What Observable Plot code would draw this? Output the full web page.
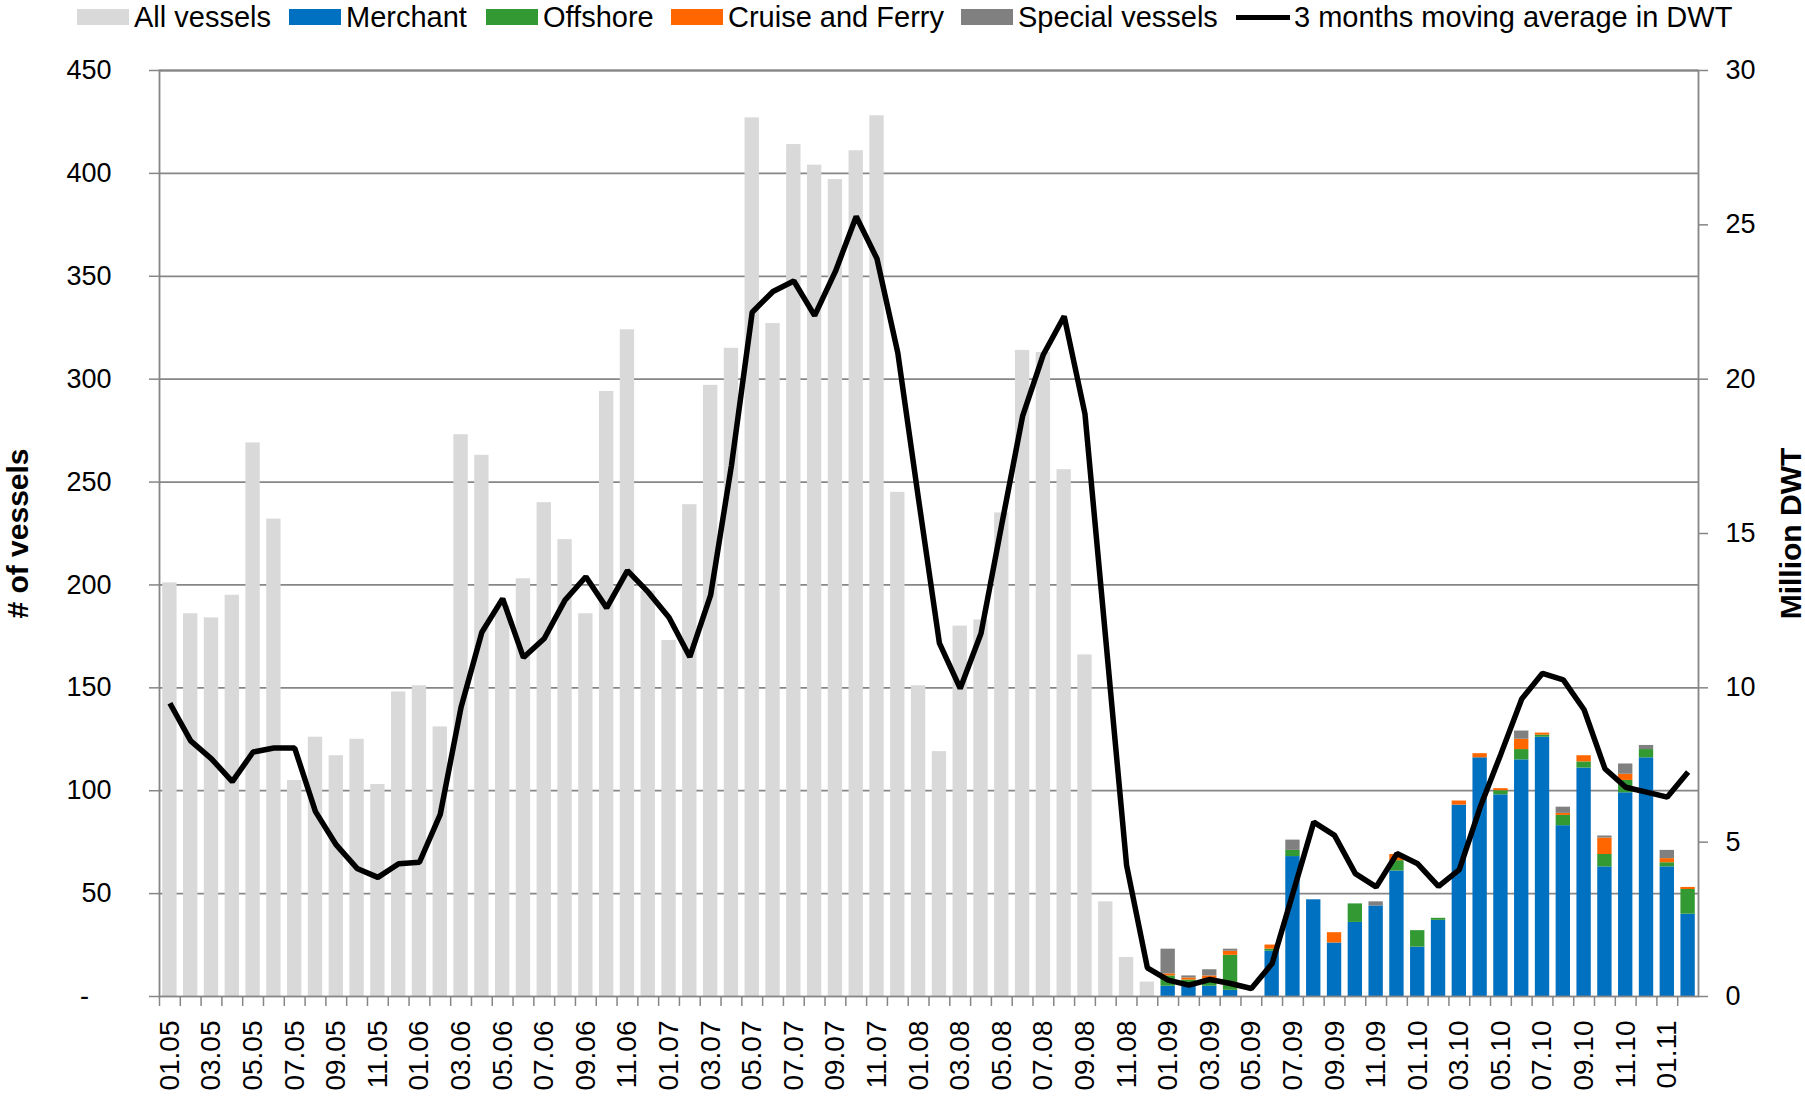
<!DOCTYPE html>
<html><head><meta charset="utf-8">
<script src="https://cdn.jsdelivr.net/npm/d3@7"></script>
<script src="https://cdn.jsdelivr.net/npm/@observablehq/plot@0.6"></script>
<style>
html,body{margin:0;padding:0;background:#fff;}
body{width:1805px;height:1101px;overflow:hidden;font-family:"Liberation Sans",Arial,sans-serif;}
#legend{position:relative;height:34px;font-size:29px;color:#000;white-space:nowrap;}
.item{position:absolute;top:0;height:34px;display:flex;align-items:center;}
.sw{width:52px;height:16px;margin-right:5px;}
.ln{width:54px;height:5px;background:#000;margin-right:4px;}
</style></head><body>
<div id="legend"></div>
<div id="chart"></div>
<script>
// ---- data ----
const months = [
  "01.05","02.05","03.05","04.05","05.05","06.05","07.05","08.05","09.05","10.05","11.05","12.05",
  "01.06","02.06","03.06","04.06","05.06","06.06","07.06","08.06","09.06","10.06","11.06","12.06",
  "01.07","02.07","03.07","04.07","05.07","06.07","07.07","08.07","09.07","10.07","11.07","12.07",
  "01.08","02.08","03.08","04.08","05.08","06.08","07.08","08.08","09.08","10.08","11.08","12.08",
  "01.09","02.09","03.09","04.09","05.09","06.09","07.09","08.09","09.09","10.09","11.09","12.09",
  "01.10","02.10","03.10","04.10","05.10","06.10","07.10","08.10","09.10","10.10","11.10","12.10",
  "01.11","02.11"
];
// All vessels, 01.05 - 12.08
const allVessels = [
  201,186,184,195,269,232,105,126,117,125,103,148,
  151,131,273,263,190,203,240,222,186,294,324,197,
  173,239,297,315,427,327,414,404,397,411,428,245,
  151,119,180,183,235,314,313,256,166,46,19,7
];
// Breakdown, 01.09 - 02.11
const merchant = [5,5,5,3,0,22,68,47,26,36,44,61, 24,37,93,116,98,115,126,83,111,63,99,116, 63,40];
const offshore = [5,3,3,17,0,1,3,0,0,9,0,5, 8,1,0,0,2,5,1,5,3,6,6,4, 2,12];
const cruise   = [1,1,2,2,0,2,0,0,5,0,0,3, 0,0,2,2,1,5,1,1,3,8,3,0, 2,1];
const special  = [12,1,3,1,0,0,5,0,0,0,2,0, 0,0,0,0,0,4,0,3,0,1,5,2, 4,0];
// 3 months moving average in DWT (million), 01.05 - 02.11
const dwt = [
  9.5,8.28,7.7,6.96,7.92,8.05,8.05,5.99,4.91,4.15,3.86,4.3,
  4.35,5.9,9.37,11.8,12.89,10.98,11.6,12.84,13.6,12.59,13.8,13.1,
  12.28,11.0,13.0,17.2,22.17,22.84,23.18,22.06,23.49,25.27,23.9,20.85,
  16.1,11.45,9.98,11.76,15.3,18.8,20.8,22.04,18.87,11.57,4.25,0.93,
  0.53,0.37,0.55,0.42,0.26,1.07,3.35,5.65,5.22,3.98,3.55,4.63,
  4.3,3.57,4.11,6.13,7.86,9.64,10.47,10.26,9.29,7.38,6.78,6.62,
  6.46,7.27
];
const cats = ["Merchant","Offshore","Cruise and Ferry","Special vessels"];
const catColors = ["#0070c0","#339933","#ff6600","#808080"];
const allColor = "#d9d9d9";
const leftTicks = [0,50,100,150,200,250,300,350,400,450];
const rightTicks = [0,5,10,15,20,25,30];
const ratio = 450 / 30;

// ---- tables ----
const allTable = allVessels.map((v, i) => ({month: months[i], count: v}));
const stackTable = [];
const series = [merchant, offshore, cruise, special];
merchant.forEach((_, j) => {
  cats.forEach((c, k) => stackTable.push({month: months[48 + j], cat: c, value: series[k][j]}));
});
const lineTable = dwt.map((v, i) => ({month: months[i], dwt: v}));

// ---- legend ----
const legend = document.getElementById("legend");
const legendItems = [["All vessels", allColor, "sw"]].concat(cats.map((c, k) => [c, catColors[k], "sw"]), [["3 months moving average in DWT", "#000", "ln"]]);
const legendLeft = [77, 289, 486, 671, 961, 1236];
legendItems.forEach(([label, color, cls], i) => {
  const it = document.createElement("div"); it.className = "item"; it.style.left = legendLeft[i] + "px";
  const s = document.createElement("div"); s.className = cls; s.style.background = color;
  const t = document.createElement("span"); t.textContent = label;
  it.appendChild(s); it.appendChild(t); legend.appendChild(it);
});

// ---- chart ----
const W = 1805, H = 1067;
const mL = 159, mR = 107, mT = 36, mB = 105;
const step = (W - mL - mR) / months.length;
const gray = "#868686";
const titleFont = "'Liberation Sans Narrow', 'Arial Narrow', 'Liberation Sans', sans-serif";

const chart = Plot.plot({
  width: W, height: H,
  marginTop: mT, marginBottom: mB, marginLeft: mL, marginRight: mR,
  style: {fontFamily: "'Liberation Sans', Arial, sans-serif", fontSize: "27px", color: "#000", background: "#fff", overflow: "visible"},
  x: {type: "band", domain: months, paddingInner: 0.31, paddingOuter: 0.155, round: false, label: null},
  y: {domain: [0, 450], label: null},
  color: {domain: cats, range: catColors},
  marks: [
    Plot.gridY(leftTicks.filter(d => d > 0), {stroke: gray, strokeOpacity: 1, strokeWidth: 1.8}),
    Plot.barY(allTable, {x: "month", y: "count", fill: allColor}),
    Plot.barY(stackTable, {x: "month", y: "value", fill: "cat"}),
    Plot.frame({stroke: gray, strokeWidth: 1.8}),
    Plot.axisY({ticks: leftTicks, tickSize: 10, tickPadding: 38, stroke: gray, strokeWidth: 1.5, fill: "#000",
      tickFormat: d => d === 0 ? "-\u00a0\u00a0\u00a0" : String(d), label: null}),
    Plot.axisY({anchor: "right", ticks: rightTicks.map(d => d * ratio), tickSize: 9, tickPadding: 18, stroke: gray, strokeWidth: 1.5, fill: "#000",
      tickFormat: d => String(Math.round(d / ratio)), label: null}),
    Plot.axisX({ticks: months, tickSize: 10, tickFormat: () => "", dx: -step / 2, stroke: gray, strokeWidth: 1.5, label: null}),
    Plot.axisX({ticks: months.filter((d, i) => i % 2 === 0), tickSize: 0, tickPadding: 24, tickRotate: -90, fontSize: 28, fill: "#000", label: null}),
    Plot.lineY(lineTable, {x: "month", y: d => d.dwt * ratio, stroke: "#000", strokeWidth: 5.5, strokeLinejoin: "miter", strokeLinecap: "butt"}),
    Plot.text(["# of vessels"], {text: d => d, frameAnchor: "left", textAnchor: "middle", dx: -141, rotate: -90, fontWeight: "bold", fontSize: 30,
      fontFamily: titleFont, fill: "#000"}),
    Plot.text(["Million DWT"], {text: d => d, frameAnchor: "right", textAnchor: "middle", dx: 93, rotate: -90, fontWeight: "bold", fontSize: 30,
      fontFamily: titleFont, fill: "#000"})
  ]
});
document.getElementById("chart").appendChild(chart);
</script>
</body></html>
